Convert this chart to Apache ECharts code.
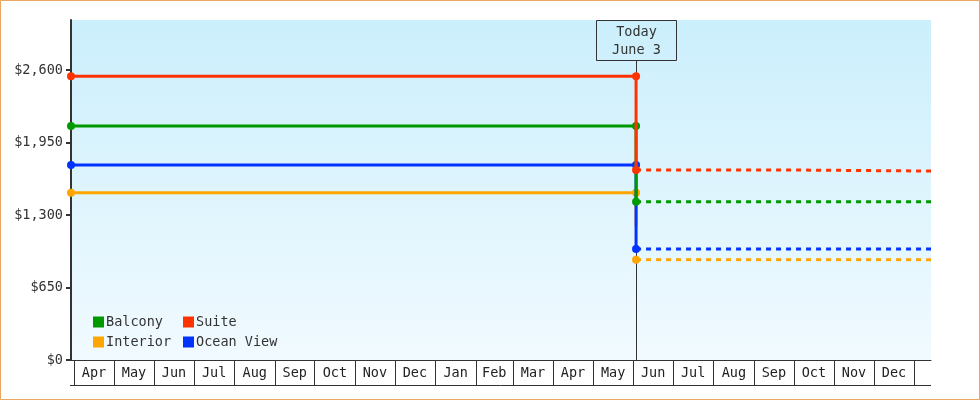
<!DOCTYPE html>
<html>
<head>
<meta charset="utf-8">
<script src="https://cdn.jsdelivr.net/npm/echarts@6/dist/echarts.min.js"></script>
<style>html,body{margin:0;padding:0;background:#fff;}#c{width:980px;height:400px;}</style>
</head>
<body>
<div id="c"></div>
<script>
// ---- data ----
const monthLabels = ['Apr','May','Jun','Jul','Aug','Sep','Oct','Nov','Dec','Jan','Feb','Mar','Apr','May','Jun','Jul','Aug','Sep','Oct','Nov','Dec'];
const monthStarts = ['2022-04-01','2022-05-01','2022-06-01','2022-07-01','2022-08-01','2022-09-01','2022-10-01','2022-11-01','2022-12-01','2023-01-01','2023-02-01','2023-03-01','2023-04-01','2023-05-01','2023-06-01','2023-07-01','2023-08-01','2023-09-01','2023-10-01','2023-11-01','2023-12-01','2024-01-01'];
const yTicks = [0, 650, 1300, 1950, 2600];
const axisStart = '2022-03-29 12:00';
const axisEnd = '2024-01-13 17:00';
const todayDate = '2023-06-03';
const todayLines = ['Today', 'June 3'];

const seriesNames = ['Interior', 'Ocean View', 'Balcony', 'Suite'];
const seriesColors = ['#ffa500', '#0033ff', '#009900', '#ff3300'];

const interiorHistory = [['2022-03-29 12:00', 1500], ['2023-06-03', 1500], ['2023-06-03', 1200]];
const interiorForecast = [['2023-06-03', 900], ['2024-01-13 17:00', 900]];
const oceanHistory = [['2022-03-29 12:00', 1750], ['2023-06-03', 1750], ['2023-06-03', 995]];
const oceanForecast = [['2023-06-03', 995], ['2024-01-13 17:00', 995]];
const balconyHistory = [['2022-03-29 12:00', 2100], ['2023-06-03', 2100], ['2023-06-03', 1420]];
const balconyForecast = [['2023-06-03', 1420], ['2024-01-13 17:00', 1420]];
const suiteHistory = [['2022-03-29 12:00', 2545], ['2023-06-03', 2545], ['2023-06-03', 1705]];
const suiteForecast = [['2023-06-03', 1705], ['2023-09-25', 1705], ['2023-09-25', 1695], ['2024-01-13 17:00', 1695]];

const histories = [interiorHistory, oceanHistory, balconyHistory, suiteHistory];
const forecasts = [interiorForecast, oceanForecast, balconyForecast, suiteForecast];

// ---- helpers ----
function ts(s) {
  const parts = s.split(' ');
  const dp = parts[0].split('-').map(Number);
  const tp = (parts[1] || '0:0').split(':').map(Number);
  return new Date(dp[0], dp[1] - 1, dp[2], tp[0], tp[1]).getTime();
}
const FONT = '"DejaVu Sans Mono", monospace';
const FS = 13.5;

const chart = echarts.init(document.getElementById('c'));

const lineSeries = [];
histories.forEach((h, k) => {
  lineSeries.push({
    name: seriesNames[k], type: 'line', z: 3 + k,
    color: seriesColors[k],
    data: h.map((p, i) => ({ value: [ts(p[0]), p[1]], symbol: i < 2 ? 'circle' : 'none' })),
    symbolSize: 8, showSymbol: true,
    lineStyle: { width: 3, color: seriesColors[k] },
    itemStyle: { color: seriesColors[k] },
    silent: true
  });
});
forecasts.forEach((f, k) => {
  lineSeries.push({
    name: seriesNames[k] + ' forecast', type: 'line', z: 3 + k,
    color: seriesColors[k],
    data: f.map((p, i) => ({ value: [ts(p[0]), p[1]], symbol: i === 0 ? 'circle' : 'none' })),
    symbolSize: 8,
    lineStyle: { width: 3, color: seriesColors[k], type: [5, 5] },
    itemStyle: { color: seriesColors[k] },
    silent: true
  });
});

const monthData = monthLabels.map((m, i) => [ts(monthStarts[i]), ts(monthStarts[i + 1]), 0]);

const monthSeries = {
  type: 'custom', clip: false, silent: true, z: 10,
  data: monthData,
  encode: { x: [0, 1], y: 2 },
  renderItem(params, api) {
    const i = params.dataIndex;
    const s = api.coord([api.value(0), 0]);
    const e = api.coord([api.value(1), 0]);
    const y0 = Math.round(s[1]);
    const h = 25;
    const sx = Math.round(s[0]) + 0.5;
    const ex = Math.round(e[0]) + 0.5;
    const children = [
      { type: 'line', shape: { x1: sx, y1: y0, x2: sx, y2: y0 + h }, style: { stroke: '#333', lineWidth: 1 } },
      { type: 'text', style: { text: monthLabels[i], x: (s[0] + e[0]) / 2, y: y0 + h / 2 + 0.5, align: 'center', verticalAlign: 'middle', font: FS + 'px ' + FONT, fill: '#222' } }
    ];
    if (i === monthLabels.length - 1) {
      children.push({ type: 'line', shape: { x1: ex, y1: y0, x2: ex, y2: y0 + h }, style: { stroke: '#333', lineWidth: 1 } });
    }
    if (i === 0) {
      const cs = params.coordSys;
      children.push({ type: 'line', shape: { x1: cs.x - 1, y1: y0 + h + 0.5, x2: cs.x + cs.width, y2: y0 + h + 0.5 }, style: { stroke: '#333', lineWidth: 1 } });
    }
    return { type: 'group', children };
  }
};

const todaySeries = {
  type: 'custom', clip: false, silent: true, z: 1,
  data: [[ts(todayDate), 0]],
  encode: { x: 0, y: 1 },
  renderItem(params, api) {
    const p = api.coord([api.value(0), 0]);
    const x = Math.round(p[0]) + 0.5;
    const top = params.coordSys.y;
    return {
      type: 'group',
      children: [
        { type: 'line', shape: { x1: x, y1: top + 40, x2: x, y2: p[1] }, style: { stroke: '#333', lineWidth: 1 } },
        { type: 'rect', shape: { x: x - 40, y: top + 0.5, width: 80, height: 40 }, style: { fill: 'none', stroke: '#333', lineWidth: 1 } },
        { type: 'text', style: { text: todayLines[0], x: x, y: top + 12.5, align: 'center', verticalAlign: 'middle', font: FS + 'px ' + FONT, fill: '#333' } },
        { type: 'text', style: { text: todayLines[1], x: x, y: top + 30, align: 'center', verticalAlign: 'middle', font: FS + 'px ' + FONT, fill: '#333' } }
      ]
    };
  }
};

const legendCommon = {
  orient: 'vertical', icon: 'rect', itemWidth: 11, itemHeight: 11, itemGap: 6,
  padding: 0, selectedMode: false,
  textStyle: { fontFamily: FONT, fontSize: FS, color: '#333', lineHeight: 11, padding: [0, 0, 0, -3] }
};

chart.setOption({
  animation: false,
  backgroundColor: '#fff',
  graphic: [{
    type: 'rect', z: 100, silent: true,
    shape: { x: 0.5, y: 0.5, width: 979, height: 399 },
    style: { fill: 'none', stroke: '#eaa963', lineWidth: 1 }
  }],
  grid: {
    left: 71, right: 49, top: 20, bottom: 40, show: true, borderWidth: 0,
    backgroundColor: new echarts.graphic.LinearGradient(0, 0, 0, 1, [
      { offset: 0, color: '#cbeffc' }, { offset: 1, color: '#f1faff' }
    ])
  },
  legend: [
    Object.assign({}, legendCommon, { left: 93, top: 315, data: ['Balcony', 'Interior'] }),
    Object.assign({}, legendCommon, { left: 183, top: 315, data: ['Suite', 'Ocean View'] })
  ],
  xAxis: {
    type: 'time', min: ts(axisStart), max: ts(axisEnd),
    axisLine: { show: true, lineStyle: { color: '#333', width: 1 } },
    axisTick: { show: false }, axisLabel: { show: false }, splitLine: { show: false }
  },
  yAxis: {
    type: 'value', min: 0, max: 3050,
    axisLine: { show: true, lineStyle: { color: '#333', width: 2 } },
    axisTick: { show: true, length: 5, lineStyle: { color: '#333', width: 2 }, customValues: yTicks },
    axisLabel: {
      margin: 8, fontFamily: FONT, fontSize: FS, color: '#333', customValues: yTicks,
      formatter: v => '$' + v.toLocaleString('en-US')
    },
    splitLine: { show: false }
  },
  series: [todaySeries].concat(lineSeries, [monthSeries])
});
</script>
</body>
</html>
